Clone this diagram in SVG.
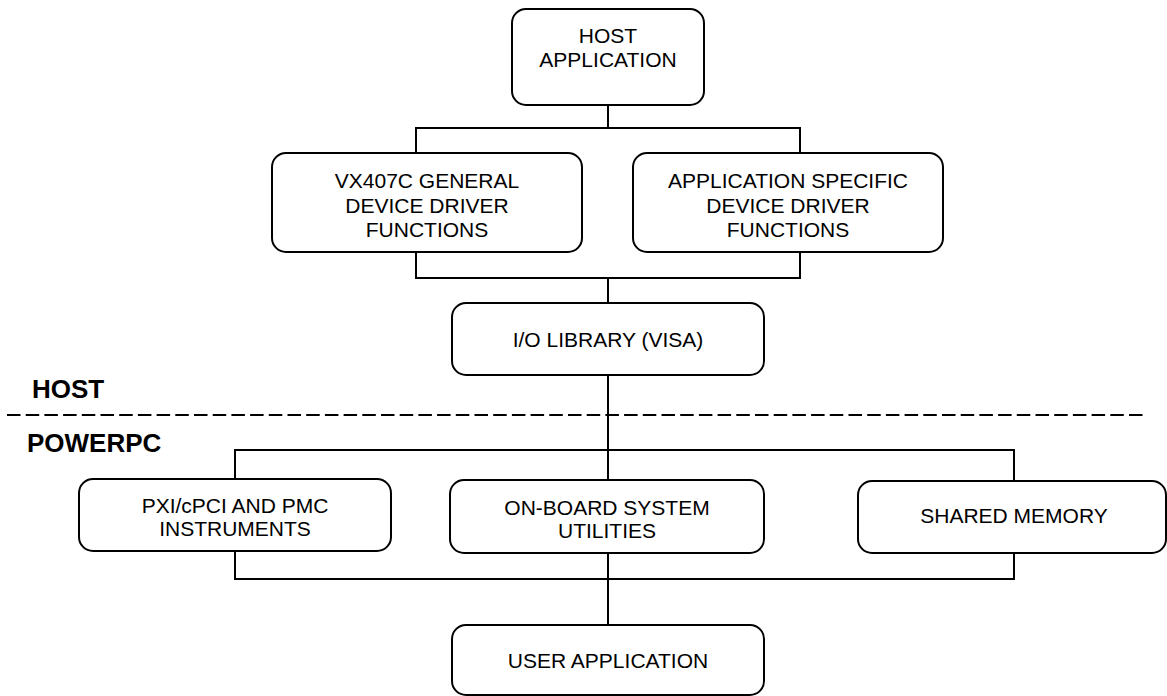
<svg xmlns="http://www.w3.org/2000/svg" width="1167" height="696" viewBox="0 0 1167 696">
<style>
.box{fill:#fff;stroke:#000;stroke-width:2}
.t{font-family:"Liberation Sans",Arial,sans-serif;font-size:21px;fill:#000;text-anchor:middle}
.lbl{font-family:"Liberation Sans",Arial,sans-serif;font-size:26px;font-weight:bold;fill:#000}
.c{fill:none;stroke:#000;stroke-width:2}
</style>
<rect width="1167" height="696" fill="#fff"/>
<g id="connectors">
<path class="c" d="M608,105V128M416,153V128H800V153"/>
<path class="c" d="M416,252V278H800V252M608,278V303"/>
<path class="c" d="M608,375V480M235,479V450H1014V481"/>
<path class="c" d="M235,551V579H1014V553M608,553V625"/>
</g>
<g id="divider">
<line x1="7" y1="415" x2="1145" y2="415" stroke="#000" stroke-width="2" stroke-dasharray="13.5 5.2"/>
<text class="lbl" x="32" y="398">HOST</text>
<text class="lbl" x="27" y="452">POWERPC</text>
</g>
<g id="host-application">
<rect class="box" x="512" y="9" width="192" height="96" rx="14"/>
<text class="t" x="608" y="43">HOST</text>
<text class="t" x="608" y="67">APPLICATION</text>
</g>
<g id="vx407c-driver">
<rect class="box" x="272" y="153" width="310" height="99" rx="14"/>
<text class="t" x="427" y="188">VX407C GENERAL</text>
<text class="t" x="427" y="212.5">DEVICE DRIVER</text>
<text class="t" x="427" y="237">FUNCTIONS</text>
</g>
<g id="app-specific-driver">
<rect class="box" x="633" y="153" width="310" height="99" rx="14"/>
<text class="t" x="788" y="188">APPLICATION SPECIFIC</text>
<text class="t" x="788" y="212.5">DEVICE DRIVER</text>
<text class="t" x="788" y="237">FUNCTIONS</text>
</g>
<g id="io-library">
<rect class="box" x="452" y="303" width="312" height="72" rx="14"/>
<text class="t" x="608" y="347">I/O LIBRARY (VISA)</text>
</g>
<g id="pxi-instruments">
<rect class="box" x="79" y="479" width="312" height="72" rx="14"/>
<text class="t" x="235" y="513">PXI/cPCI AND PMC</text>
<text class="t" x="235" y="536">INSTRUMENTS</text>
</g>
<g id="onboard-utilities">
<rect class="box" x="450" y="480" width="314" height="73" rx="14"/>
<text class="t" x="607" y="515">ON-BOARD SYSTEM</text>
<text class="t" x="607" y="538">UTILITIES</text>
</g>
<g id="shared-memory">
<rect class="box" x="858" y="481" width="308" height="72" rx="14"/>
<text class="t" x="1014" y="523">SHARED MEMORY</text>
</g>
<g id="user-application">
<rect class="box" x="452" y="625" width="312" height="70" rx="14"/>
<text class="t" x="608" y="668">USER APPLICATION</text>
</g>
</svg>
